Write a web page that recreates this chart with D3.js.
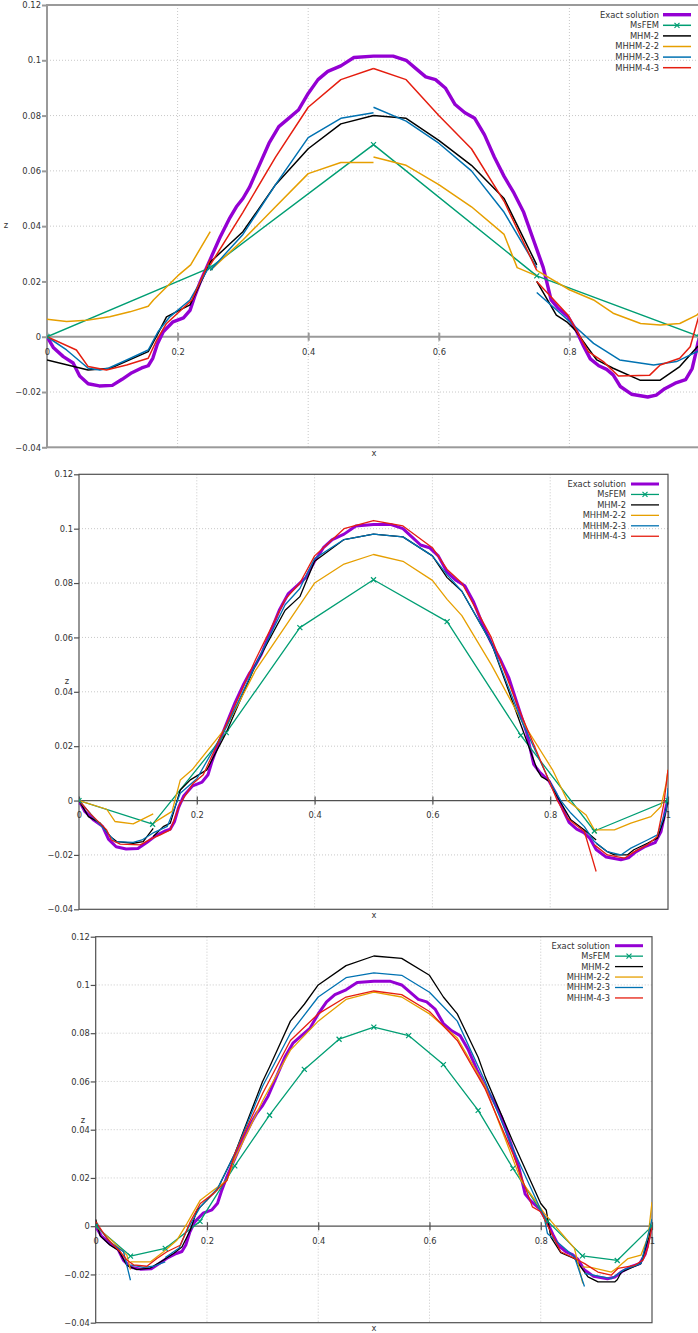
<!DOCTYPE html>
<html>
<head>
<meta charset="utf-8">
<script src="https://cdn.jsdelivr.net/npm/d3@7"></script>
<style>
  body { margin: 0; background: #fff; }
  text { font-family: "DejaVu Sans", sans-serif; }
</style>
</head>
<body>
<script>
// ---- data (x, z) ; null = break between elements ----
var seriesNames = ["Exact solution", "MsFEM", "MHM-2", "MHHM-2-2", "MHHM-2-3", "MHHM-4-3"];
var seriesColors = ["#9400d3", "#009e73", "#000000", "#e69f00", "#0072b2", "#e51e10"];
var yTickValues = [0.12, 0.1, 0.08, 0.06, 0.04, 0.02, 0, -0.02, -0.04];
var xTickValues = [0, 0.2, 0.4, 0.6, 0.8, 1];

var exact = [[0,0],[0.01,-0.004],[0.025,-0.0072],[0.04,-0.0095],[0.05,-0.0142],[0.063,-0.017],[0.08,-0.0178],[0.1,-0.0176],
  [0.115,-0.0154],[0.13,-0.013],[0.145,-0.0113],[0.155,-0.0105],[0.162,-0.0078],[0.169,-0.0026],[0.178,0.0018],[0.193,0.0054],
  [0.209,0.0068],[0.219,0.0095],[0.226,0.0145],[0.235,0.02],[0.25,0.028],[0.265,0.036],[0.28,0.043],[0.29,0.047],[0.3,0.05],
  [0.31,0.054],[0.325,0.062],[0.34,0.07],[0.355,0.076],[0.37,0.079],[0.385,0.082],[0.4,0.088],[0.415,0.093],[0.43,0.096],
  [0.45,0.098],[0.47,0.101],[0.5,0.1015],[0.53,0.1015],[0.55,0.1],[0.565,0.097],[0.58,0.094],[0.595,0.093],[0.61,0.09],
  [0.625,0.084],[0.64,0.081],[0.655,0.079],[0.67,0.073],[0.685,0.065],[0.7,0.058],[0.715,0.052],[0.73,0.045],[0.745,0.035],
  [0.76,0.025],[0.772,0.0133],[0.782,0.0105],[0.798,0.0072],[0.81,0.0025],[0.822,-0.0035],[0.832,-0.008],[0.845,-0.0105],
  [0.857,-0.0118],[0.867,-0.0138],[0.878,-0.018],[0.895,-0.0208],[0.92,-0.0218],[0.933,-0.0211],[0.946,-0.0188],
  [0.962,-0.0168],[0.978,-0.0155],[0.988,-0.0115],[0.993,-0.0065],[0.997,-0.002],[1,0]];

// panel 1
var p1_msfem = [[0,0],[0.25,0.025],[0.5,0.0695],[0.75,0.022],[1,0]];
var p1_mhm2 = [[0,-0.0084],[0.063,-0.012],[0.097,-0.0114],[0.155,-0.0054],[0.17,0.0012],[0.183,0.0072],[0.219,0.0115],[0.25,0.027],null,
  [0.25,0.027],[0.3,0.038],[0.35,0.055],[0.4,0.068],[0.45,0.077],[0.5,0.08],null,
  [0.5,0.08],[0.55,0.079],[0.6,0.071],[0.65,0.062],[0.7,0.05],[0.75,0.026],null,
  [0.75,0.02],[0.78,0.0078],[0.796,0.0054],[0.809,0.0024],[0.827,-0.0036],[0.842,-0.0084],[0.867,-0.0114],[0.908,-0.0157],
  [0.939,-0.0157],[0.969,-0.0108],[0.996,-0.0036],[1,-0.003]];
var p1_mhhm22 = [[0,0.0063],[0.03,0.0055],[0.061,0.006],[0.096,0.0072],[0.127,0.009],[0.155,0.011],[0.163,0.0133],[0.2,0.022],[0.22,0.026],[0.25,0.038],null,
  [0.25,0.024],[0.3,0.035],[0.35,0.047],[0.4,0.059],[0.45,0.063],[0.5,0.063],null,
  [0.5,0.065],[0.55,0.062],[0.6,0.055],[0.65,0.047],[0.7,0.037],[0.72,0.025],[0.75,0.022],null,
  [0.75,0.024],[0.8,0.017],[0.837,0.0133],[0.867,0.0085],[0.909,0.0048],[0.939,0.0042],[0.969,0.0048],[0.995,0.0078],[1,0.009]];
var p1_mhhm23 = [[0,0],[0.03,-0.0048],[0.063,-0.0114],[0.081,-0.012],[0.094,-0.0114],[0.122,-0.0084],[0.155,-0.0048],[0.17,0.0018],[0.188,0.0072],[0.219,0.0133],[0.25,0.026],null,
  [0.25,0.024],[0.3,0.037],[0.35,0.055],[0.4,0.072],[0.45,0.079],[0.5,0.081],null,
  [0.5,0.083],[0.55,0.078],[0.6,0.07],[0.65,0.06],[0.7,0.045],[0.75,0.025],null,
  [0.75,0.016],[0.786,0.0085],[0.809,0.0036],[0.837,-0.0024],[0.877,-0.0084],[0.929,-0.0102],[0.964,-0.009],[0.99,-0.006],[1,-0.005]];
var p1_mhhm43 = [[0,0],[0.045,-0.0048],[0.063,-0.0108],[0.091,-0.012],[0.122,-0.0102],[0.155,-0.0078],[0.168,-0.0012],[0.183,0.0048],[0.222,0.0133],[0.25,0.028],null,
  [0.25,0.026],[0.3,0.045],[0.35,0.065],[0.4,0.083],[0.45,0.093],[0.5,0.097],null,
  [0.5,0.097],[0.55,0.093],[0.6,0.08],[0.65,0.068],[0.7,0.049],[0.75,0.024],null,
  [0.75,0.02],[0.798,0.0078],[0.809,0.003],[0.829,-0.0054],[0.852,-0.009],[0.875,-0.0142],[0.923,-0.0139],[0.939,-0.0102],
  [0.969,-0.0078],[0.985,-0.0036],[1,0.009]];

// panel 2
var p2_msfem = [[0,0],[0.125,-0.0087],[0.25,0.025],[0.375,0.0636],[0.5,0.0812],[0.625,0.0658],[0.75,0.024],[0.875,-0.0112],[1,0]];
var p2_mhm2 = [[0,0],[0.016,-0.0059],[0.036,-0.0083],[0.053,-0.0132],[0.064,-0.0151],[0.092,-0.0157],[0.109,-0.0151],[0.126,-0.0102],null,
  [0.126,-0.0132],[0.143,-0.0096],[0.155,-0.0083],[0.172,0.0039],[0.189,0.0076],[0.217,0.0113],[0.25,0.025],[0.3,0.05],
  [0.35,0.07],[0.375,0.075],[0.4,0.088],[0.45,0.096],[0.5,0.098],[0.55,0.097],[0.6,0.09],[0.625,0.082],[0.65,0.077],
  [0.7,0.058],[0.75,0.028],[0.778,0.0113],[0.785,0.0088],[0.799,0.007],[0.812,0.0015],[0.835,-0.0071],[0.858,-0.0108],
  [0.878,-0.0145],null,[0.878,-0.0157],[0.897,-0.0188],[0.909,-0.02],[0.931,-0.02],[0.942,-0.0181],[0.965,-0.0157],
  [0.982,-0.0138],[0.993,-0.0071],[1,0]];
var p2_mhhm22 = [[0,0],[0.047,-0.0032],[0.061,-0.0077],[0.092,-0.0086],[0.126,-0.0049],null,
  [0.126,-0.0083],[0.158,-0.004],[0.172,0.0076],[0.192,0.0113],[0.25,0.027],[0.3,0.048],[0.35,0.064],[0.4,0.08],
  [0.45,0.087],[0.5,0.0905],[0.55,0.088],[0.6,0.081],[0.625,0.074],[0.65,0.068],[0.7,0.05],[0.75,0.03],[0.804,0.0113],
  [0.829,0],[0.861,-0.0053],[0.878,-0.012],null,[0.875,-0.0108],[0.909,-0.0108],[0.937,-0.0083],[0.971,-0.0059],
  [0.988,-0.0022],[0.997,0.0064],[1,0.0113]];
var p2_mhhm23 = [[0,0],[0.03,-0.0075],[0.053,-0.013],[0.061,-0.0151],[0.092,-0.0154],[0.107,-0.0145],[0.125,-0.012],null,
  [0.125,-0.012],[0.15,-0.0095],[0.172,0.0027],[0.2,0.008],[0.25,0.027],[0.3,0.05],[0.35,0.072],[0.375,0.078],[0.4,0.089],
  [0.45,0.096],[0.5,0.098],[0.55,0.097],[0.6,0.09],[0.625,0.083],[0.65,0.077],[0.7,0.058],[0.75,0.03],[0.799,0.007],
  [0.818,0],[0.835,-0.0046],[0.858,-0.0096],[0.875,-0.0151],[0.897,-0.0188],[0.92,-0.02],[0.937,-0.0175],[0.965,-0.0145],
  [0.982,-0.0126],[0.997,-0.0034],[1,0.0046]];
var p2_mhhm43 = [[0,0],[0.02,-0.005],[0.047,-0.0108],[0.055,-0.0145],[0.07,-0.016],[0.104,-0.0163],[0.124,-0.0139],
  [0.138,-0.0126],[0.155,-0.0108],[0.172,-0.001],[0.194,0.0064],[0.211,0.0095],[0.25,0.028],[0.3,0.052],[0.35,0.074],
  [0.375,0.08],[0.4,0.09],[0.45,0.1],[0.5,0.103],[0.55,0.101],[0.6,0.093],[0.625,0.085],[0.65,0.08],[0.7,0.06],[0.75,0.032],
  [0.812,0],[0.829,-0.0065],[0.858,-0.0114],[0.878,-0.0261],null,[0.875,-0.0163],[0.897,-0.02],[0.926,-0.0212],
  [0.943,-0.0188],[0.965,-0.0163],[0.982,-0.0132],[0.993,-0.001],[1,0.0113]];

// panel 3
var p3_msfem = [[0,0],[0.0625,-0.0124],[0.125,-0.0092],[0.1875,0.002],[0.25,0.025],[0.3125,0.046],[0.375,0.065],[0.4375,0.0775],
  [0.5,0.0825],[0.5625,0.079],[0.625,0.067],[0.6875,0.048],[0.75,0.024],[0.8125,0.002],[0.875,-0.0123],[0.9375,-0.0142],[1,0]];
var p3_mhm2 = [[0,0.0028],[0.008,-0.004],[0.026,-0.0079],[0.041,-0.01],[0.056,-0.0162],[0.074,-0.018],[0.098,-0.0174],
  [0.122,-0.014],[0.14,-0.0113],[0.155,-0.0086],[0.17,-0.0017],[0.182,0.0066],[0.2,0.0108],[0.218,0.015],[0.25,0.03],
  [0.3,0.06],[0.3125,0.066],[0.35,0.085],[0.375,0.092],[0.4,0.1],[0.45,0.108],[0.5,0.112],[0.55,0.111],[0.6,0.104],
  [0.625,0.095],[0.65,0.088],[0.6875,0.07],[0.7,0.062],[0.75,0.035],[0.8,0.0094],[0.81,0.0066],[0.818,-0.0044],
  [0.836,-0.011],[0.861,-0.0134],[0.885,-0.021],[0.903,-0.0231],[0.933,-0.0231],[0.9375,-0.0222],[0.945,-0.019],
  [0.98,-0.0155],[1,0]];
var p3_mhhm22 = [[0,0],[0.032,-0.0066],[0.056,-0.012],[0.0625,-0.018],null,[0.0625,-0.0148],[0.098,-0.0148],[0.122,-0.0106],
  [0.146,-0.0058],[0.164,0.0011],[0.188,0.0108],[0.212,0.015],[0.236,0.019],[0.25,0.028],[0.3,0.052],[0.35,0.073],
  [0.4,0.085],[0.45,0.094],[0.5,0.097],[0.55,0.095],[0.6,0.088],[0.65,0.078],[0.7,0.058],[0.7645,0.019],[0.8065,0.0053],
  [0.8606,-0.0092],[0.8756,-0.0237],null,[0.875,-0.0169],[0.89,-0.0171],[0.927,-0.019],[0.9387,-0.017],[0.957,-0.0134],
  [0.98,-0.012],[0.993,-0.0044],[1,0.01]];
var p3_mhhm23 = [[0,0.001],[0.026,-0.0066],[0.05,-0.0106],[0.0625,-0.0224],null,[0.0625,-0.016],[0.086,-0.0171],[0.104,-0.0166],
  [0.125,-0.0148],null,[0.125,-0.013],[0.15,-0.009],[0.164,-0.0017],[0.188,0.008],[0.22,0.016],[0.25,0.03],[0.3,0.058],
  [0.35,0.08],[0.4,0.095],[0.45,0.103],[0.5,0.105],[0.55,0.104],[0.6,0.097],[0.65,0.085],[0.7,0.06],[0.75,0.032],
  [0.806,0.0039],[0.812,-0.003],[0.8606,-0.0127],[0.8786,-0.025],null,[0.8786,-0.0196],[0.927,-0.0217],[0.95,-0.018],
  [0.98,-0.0155],[0.998,0.001],[1,0.003]];
var p3_mhhm43 = [[0,0.002],[0.02,-0.005],[0.044,-0.0106],[0.056,-0.014],[0.068,-0.016],[0.092,-0.0166],[0.11,-0.0134],
  [0.128,-0.0106],[0.152,-0.0079],[0.17,0.0018],[0.188,0.0094],[0.212,0.0136],[0.236,0.019],[0.25,0.03],[0.3,0.055],
  [0.35,0.077],[0.4,0.088],[0.45,0.095],[0.5,0.0975],[0.55,0.096],[0.6,0.089],[0.65,0.077],[0.7,0.057],[0.75,0.03],
  [0.785,0.008],[0.8,0.006],[0.836,-0.0106],[0.8667,-0.014],[0.879,-0.0155],[0.9027,-0.019],[0.9267,-0.0203],
  [0.9387,-0.0175],[0.9687,-0.0162],[0.984,-0.014],[0.993,-0.0086],[1,0]];

// ---- layout of the three stacked plots (pixels) ----
var panels = [
  { left: 47, right: 700, top: 5, bottom: 447.3, frame: "#9a9a9a", frameW: 2, fs: 8.4, showOne: false, lw: 1.5, ew: 3.4,
    legX: 659, legY: 14.7, legDy: 10.6, sx1: 663, sx2: 691, xlab: [374, 456], zlab: [6, 228],
    data: [exact, p1_msfem, p1_mhm2, p1_mhhm22, p1_mhhm23, p1_mhhm43] },
  { left: 79, right: 668, top: 474.3, bottom: 909.3, frame: "#505050", frameW: 1.2, fs: 8.3, showOne: true, lw: 1.3, ew: 3,
    legX: 626, legY: 484, legDy: 10.45, sx1: 631, sx2: 659, xlab: [374, 918], zlab: [67, 684],
    data: [exact, p2_msfem, p2_mhm2, p2_mhhm22, p2_mhhm23, p2_mhhm43] },
  { left: 95.7, right: 652, top: 936.7, bottom: 1322.7, frame: "#505050", frameW: 1.2, fs: 8.3, showOne: true, lw: 1.3, ew: 3,
    legX: 610, legY: 945.7, legDy: 10.45, sx1: 615, sx2: 643, xlab: [374, 1331], zlab: [83, 1123],
    data: [exact, p3_msfem, p3_mhm2, p3_mhhm22, p3_mhhm23, p3_mhhm43] }
];

var svg = d3.select("body").append("svg")
  .attr("width", 698).attr("height", 1333)
  .style("display", "block");

panels.forEach(function(p, pi) {
  var x = d3.scaleLinear().domain([0, 1]).range([p.left, p.right]);
  var y = d3.scaleLinear().domain([-0.04, 0.12]).range([p.bottom, p.top]);
  var g = svg.append("g");

  // grid
  g.selectAll(".gx").data([0.2, 0.4, 0.6, 0.8]).enter().append("line")
    .attr("x1", function(d) { return x(d); }).attr("x2", function(d) { return x(d); })
    .attr("y1", p.top).attr("y2", p.bottom)
    .attr("stroke", "#c8c8c8").attr("stroke-width", 1).attr("stroke-dasharray", "1,2");
  g.selectAll(".gy").data([0.1, 0.08, 0.06, 0.04, 0.02, -0.02]).enter().append("line")
    .attr("x1", p.left).attr("x2", p.right)
    .attr("y1", function(d) { return y(d); }).attr("y2", function(d) { return y(d); })
    .attr("stroke", "#c8c8c8").attr("stroke-width", 1).attr("stroke-dasharray", "1,2");

  // frame
  g.append("rect").attr("x", p.left).attr("y", p.top)
    .attr("width", p.right - p.left).attr("height", p.bottom - p.top)
    .attr("fill", "none").attr("stroke", p.frame).attr("stroke-width", p.frameW);

  // zero axis
  g.append("line").attr("x1", p.left).attr("x2", p.right)
    .attr("y1", y(0)).attr("y2", y(0))
    .attr("stroke", p.frame).attr("stroke-width", p.frameW);

  // y axis
  var ya = d3.axisLeft(y).tickValues(yTickValues).tickSize(5).tickPadding(1)
    .tickFormat(function(d) { return d3.format("~g")(d); });
  var yg = g.append("g").attr("transform", "translate(" + p.left + ",0)").call(ya);
  yg.select(".domain").remove();
  yg.selectAll("line").attr("stroke", p.frame).attr("stroke-width", p.frameW);
  yg.selectAll("text").attr("fill", "#333").style("font-size", p.fs + "px")
    .style("font-family", "DejaVu Sans, sans-serif");

  // x axis on the zero line, ticks crossing it
  var xa = d3.axisTop(x).tickValues(p.showOne ? xTickValues : xTickValues.slice(0, 5)).tickSize(4)
    .tickFormat(function(d) { return d3.format("~g")(d); });
  var xg = g.append("g").attr("transform", "translate(0," + y(0) + ")").call(xa);
  xg.select(".domain").remove();
  xg.selectAll("line").attr("y1", -4).attr("y2", 4).attr("stroke", p.frame).attr("stroke-width", p.frameW);
  xg.selectAll("text").attr("y", 15).attr("dy", "0.35em").attr("fill", "#333")
    .style("font-size", p.fs + "px").style("font-family", "DejaVu Sans, sans-serif");

  // axis labels
  g.append("text").attr("x", p.xlab[0]).attr("y", p.xlab[1]).attr("text-anchor", "middle")
    .attr("fill", "#333").style("font-size", p.fs + "px").text("x");
  g.append("text").attr("x", p.zlab[0]).attr("y", p.zlab[1]).attr("text-anchor", "middle")
    .attr("fill", "#333").style("font-size", p.fs + "px").text("z");

  // curves
  var clipId = "clip" + pi;
  svg.append("clipPath").attr("id", clipId).append("rect")
    .attr("x", p.left).attr("y", p.top).attr("width", p.right - p.left).attr("height", p.bottom - p.top);
  var line = d3.line().defined(function(d) { return d !== null; })
    .x(function(d) { return x(d[0]); }).y(function(d) { return y(d[1]); });
  var cg = g.append("g").attr("clip-path", "url(#" + clipId + ")");
  p.data.forEach(function(s, si) {
    cg.append("path").datum(s).attr("d", line).attr("fill", "none")
      .attr("stroke", seriesColors[si])
      .attr("stroke-width", si === 0 ? p.ew : p.lw)
      .attr("stroke-linejoin", "round");
  });
  // MsFEM markers
  cg.selectAll(".mk").data(p.data[1]).enter().append("path")
    .attr("transform", function(d) { return "translate(" + x(d[0]) + "," + y(d[1]) + ")"; })
    .attr("d", "M-2.5,-2.5L2.5,2.5M-2.5,2.5L2.5,-2.5")
    .attr("stroke", seriesColors[1]).attr("stroke-width", 1.2);

  // legend
  var lg = g.append("g");
  seriesNames.forEach(function(name, i) {
    var ly = p.legY + i * p.legDy;
    lg.append("text").attr("x", p.legX).attr("y", ly).attr("dy", "0.35em")
      .attr("text-anchor", "end").attr("fill", "#333").style("font-size", p.fs + "px").text(name);
    lg.append("line").attr("x1", p.sx1).attr("x2", p.sx2).attr("y1", ly).attr("y2", ly)
      .attr("stroke", seriesColors[i]).attr("stroke-width", i === 0 ? p.ew : p.lw);
    if (i === 1) {
      lg.append("path").attr("transform", "translate(" + ((p.sx1 + p.sx2) / 2) + "," + ly + ")")
        .attr("d", "M-2.5,-2.5L2.5,2.5M-2.5,2.5L2.5,-2.5")
        .attr("stroke", seriesColors[1]).attr("stroke-width", 1.2);
    }
  });
});
</script>
</body>
</html>
